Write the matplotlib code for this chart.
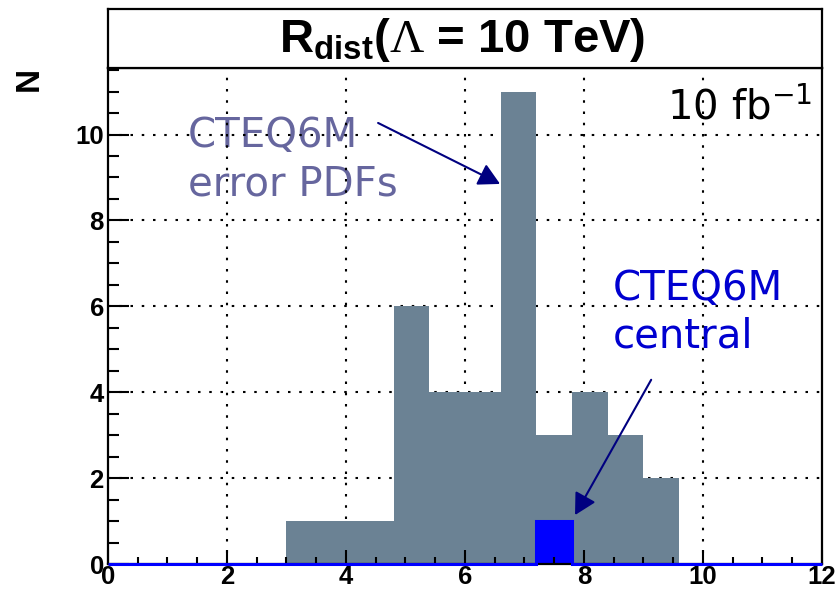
import numpy as np
import matplotlib
matplotlib.use("Agg")
import matplotlib.pyplot as plt
from matplotlib.ticker import MultipleLocator

plt.rcParams['mathtext.fontset'] = 'custom'
plt.rcParams['mathtext.bf'] = 'Liberation Sans:bold'
plt.rcParams['mathtext.rm'] = 'Liberation Serif'

# 20 bins on [0, 12]
bins = np.linspace(0, 12, 21)
# R_dist for the 40 CTEQ6M error sets
err_counts = [0, 0, 0, 0, 0, 1, 1, 1, 6, 4, 4, 11, 3, 4, 3, 2, 0, 0, 0, 0]
# R_dist for the central CTEQ6M set
central_counts = [0, 0, 0, 0, 0, 0, 0, 0, 0, 0, 0, 0, 1, 0, 0, 0, 0, 0, 0, 0]

x_ticks = [0, 2, 4, 6, 8, 10, 12]
y_ticks = [0, 2, 4, 6, 8, 10]

bar_col = '#6b8294'
err_txt_col = '#66669e'
cen_txt_col = '#0000d0'
arrow_col = '#000080'

fig = plt.figure(figsize=(8.37, 5.89), dpi=100)
ax = fig.add_axes([0.129, 0.0424, 0.853, 0.8422])

ax.stairs(err_counts, bins, fill=True, color=bar_col, zorder=1)
ax.stairs(central_counts, bins, fill=True, color='#0000ff', zorder=1.1)
ax.stairs(central_counts, bins, color='#0000ff', lw=2.2, zorder=3, clip_on=False)

ax.set_xlim(0, 12)
ax.set_ylim(0, 11.55)

# dotted grid underneath the histograms
for xv in x_ticks[1:-1]:
    ax.axvline(xv, color='black', lw=1.5, ls=(0, (1.2, 4.2)), zorder=0.5)
for yv in y_ticks[1:]:
    ax.axhline(yv, color='black', lw=1.5, ls=(0, (1.2, 4.2)), zorder=0.5)

ax.set_xticks(x_ticks)
ax.set_yticks(y_ticks)
ax.xaxis.set_minor_locator(MultipleLocator(0.5))
ax.yaxis.set_minor_locator(MultipleLocator(0.5))
ax.tick_params(axis='x', which='major', direction='in', length=10, width=1.5, pad=0.5)
ax.tick_params(axis='x', which='minor', direction='in', length=5, width=1.5)
ax.tick_params(axis='y', which='major', direction='in', length=15, width=1.5, pad=3)
ax.tick_params(axis='y', which='minor', direction='in', length=8, width=1.5)
for lab in ax.get_xticklabels() + ax.get_yticklabels():
    lab.set_fontfamily('Liberation Sans')
    lab.set_fontweight('bold')
    lab.set_fontsize(18.5)
for sp in ax.spines.values():
    sp.set_linewidth(1.6)

fig.text(29 / 837, 1 - 79 / 589, 'N', rotation=90, ha='center', va='center',
         fontsize=24, fontweight='bold', family='Liberation Sans')

# title box above the frame
tax = fig.add_axes([0.129, 0.8846, 0.853, 0.1002])
tax.set_xticks([])
tax.set_yticks([])
for sp in tax.spines.values():
    sp.set_linewidth(1.6)
tax.text(0.496, 0.27, r'R$_{\mathbf{dist}}$($\mathrm{\Lambda}$ = 10 TeV)', ha='center',
         va='baseline', fontsize=34, fontweight='bold', family='Liberation Sans',
         transform=tax.transAxes)

ax.text(11.83, 10.34, r'10 fb$^{\mathregular{-1}}$', ha='right', va='baseline',
        fontsize=29, family='DejaVu Sans', zorder=0.4)

ax.text(1.34, 8.59, 'CTEQ6M\nerror PDFs', ha='left', va='baseline', fontsize=29,
        color=err_txt_col, family='DejaVu Sans', linespacing=1.25, zorder=0.4)
ax.text(8.49, 5.03, 'CTEQ6M\ncentral', ha='left', va='baseline', fontsize=29,
        color=cen_txt_col, family='DejaVu Sans', linespacing=1.25, zorder=0.4)

arrow_kw = dict(arrowstyle='-|>,head_length=0.65,head_width=0.35', color=arrow_col,
                lw=1.5, mutation_scale=20, shrinkA=0, shrinkB=0)
ax.annotate('', xy=(6.59, 8.85), xytext=(4.54, 10.27), arrowprops=arrow_kw)
ax.annotate('', xy=(7.85, 1.14), xytext=(9.13, 4.29), arrowprops=arrow_kw)

fig.savefig('out.png', dpi=100)
